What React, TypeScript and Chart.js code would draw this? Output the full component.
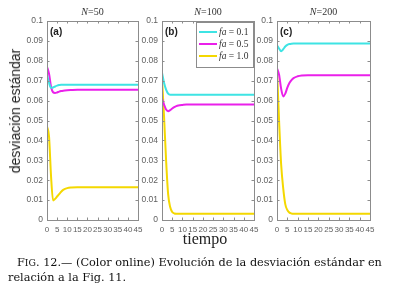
import React, { useEffect, useRef } from 'react';
import { Chart, registerables } from 'chart.js';

Chart.register(...registerables);

// ---- data ----
const time = [0, 1, 2, 3, 4, 5, 6, 7, 8, 10, 12, 15, 20, 30, 45];
const xTicks = [0, 5, 10, 15, 20, 25, 30, 35, 40, 45];
const yTicks = [0, 0.01, 0.02, 0.03, 0.04, 0.05, 0.06, 0.07, 0.08, 0.09, 0.1];
const seriesNames = ['0.1', '0.5', '1.0'];
const seriesColors = ['#3ee4e4', '#ea20ea', '#f4d800'];
const panelTitles = ['50', '100', '200'];
const panelTags = ['(a)', '(b)', '(c)'];

// N = 50
const n50_fa01 = [0.073, 0.069, 0.0664, 0.0666, 0.0671, 0.0675, 0.0678, 0.068, 0.068, 0.068, 0.068, 0.068, 0.068, 0.068, 0.068];
const n50_fa05 = [0.077, 0.0735, 0.067, 0.0642, 0.0638, 0.0641, 0.0645, 0.0648, 0.065, 0.0652, 0.0653, 0.0654, 0.0654, 0.0654, 0.0654];
const n50_fa10 = [0.047, 0.042, 0.022, 0.0098, 0.0106, 0.0118, 0.013, 0.0142, 0.0151, 0.016, 0.0163, 0.0164, 0.0164, 0.0164, 0.0164];
// N = 100
const n100_fa01 = [0.074, 0.069, 0.0655, 0.0635, 0.063, 0.063, 0.063, 0.063, 0.063, 0.063, 0.063, 0.063, 0.063, 0.063, 0.063];
const n100_fa05 = [0.061, 0.058, 0.0555, 0.0547, 0.0552, 0.056, 0.0567, 0.0572, 0.0575, 0.0578, 0.058, 0.058, 0.058, 0.058, 0.058];
const n100_fa10 = [0.071, 0.052, 0.03, 0.013, 0.0065, 0.004, 0.0033, 0.0032, 0.0032, 0.0032, 0.0032, 0.0032, 0.0032, 0.0032, 0.0032];
// N = 200
const n200_fa01 = [0.0878, 0.0862, 0.0848, 0.0858, 0.0872, 0.088, 0.0884, 0.0886, 0.0887, 0.0887, 0.0887, 0.0887, 0.0887, 0.0887, 0.0887];
const n200_fa05 = [0.0762, 0.073, 0.066, 0.0621, 0.0635, 0.0665, 0.0688, 0.0703, 0.0713, 0.0722, 0.0726, 0.0728, 0.0728, 0.0728, 0.0728];
const n200_fa10 = [0.076, 0.05, 0.028, 0.016, 0.008, 0.005, 0.0037, 0.0033, 0.0032, 0.0032, 0.0032, 0.0032, 0.0032, 0.0032, 0.0032];

const panelSeries = [
  [n50_fa01, n50_fa05, n50_fa10],
  [n100_fa01, n100_fa05, n100_fa10],
  [n200_fa01, n200_fa05, n200_fa10],
];

// ---- layout ----
const PLOT_TOP = 21;
const PLOT_BOTTOM = 220;
const LEFT_W = 34;
const RIGHT_W = 8;
const CANVAS_H = 238;
const panelEdges = [
  [47, 138],
  [162, 254],
  [277, 370],
];
const AXIS_COLOR = '#8c8c8c';
const TICK_COLOR = '#606060';

const framePlugin = {
  id: 'frameBox',
  afterDatasetsDraw(chart: any) {
    const { ctx, chartArea: a, scales } = chart;
    ctx.save();
    ctx.strokeStyle = AXIS_COLOR;
    ctx.lineWidth = 1;
    ctx.strokeRect(a.left + 0.5, a.top + 0.5, a.right - a.left, a.bottom - a.top);
    ctx.beginPath();
    for (const v of xTicks) {
      const x = Math.round(scales.x.getPixelForValue(v)) + 0.5;
      ctx.moveTo(x, a.bottom);
      ctx.lineTo(x, a.bottom - 2.5);
      ctx.moveTo(x, a.top);
      ctx.lineTo(x, a.top + 2.5);
    }
    for (const v of yTicks) {
      const y = Math.round(scales.y.getPixelForValue(v)) + 0.5;
      ctx.moveTo(a.left, y);
      ctx.lineTo(a.left + 2.5, y);
      ctx.moveTo(a.right, y);
      ctx.lineTo(a.right - 2.5, y);
    }
    ctx.stroke();
    ctx.restore();
  },
};

function Panel({ idx }: { idx: number }) {
  const ref = useRef<HTMLCanvasElement>(null);
  const [L, R] = panelEdges[idx];
  const width = R - L + LEFT_W + RIGHT_W;
  useEffect(() => {
    if (!ref.current) return;
    const chart = new Chart(ref.current, {
      type: 'line',
      data: {
        datasets: panelSeries[idx].map((vals, i) => ({
          label: 'fa = ' + seriesNames[i],
          data: time.map((t, j) => ({ x: t, y: vals[j] })),
          borderColor: seriesColors[i],
          backgroundColor: seriesColors[i],
          borderWidth: 2,
          pointRadius: 0,
          cubicInterpolationMode: 'monotone' as const,
        })),
      },
      options: {
        animation: false,
        responsive: false,
        events: [],
        layout: { padding: { top: PLOT_TOP, right: RIGHT_W, left: 0, bottom: 0 } },
        plugins: { legend: { display: false }, tooltip: { enabled: false }, title: { display: false } },
        scales: {
          x: {
            type: 'linear',
            min: 0,
            max: 45,
            grid: { display: false, drawTicks: false, tickLength: 0 },
            border: { display: false },
            afterBuildTicks: (s: any) => {
              s.ticks = xTicks.map((v) => ({ value: v }));
            },
            afterFit: (s: any) => {
              s.height = CANVAS_H - PLOT_BOTTOM;
              s.paddingLeft = 0;
              s.paddingRight = 0;
            },
            ticks: {
              autoSkip: false,
              maxRotation: 0,
              minRotation: 0,
              padding: 5,
              color: TICK_COLOR,
              font: { family: 'Liberation Sans, Arial, sans-serif', size: 8 },
            },
          },
          y: {
            type: 'linear',
            min: 0,
            max: 0.1,
            grid: { display: false, drawTicks: false, tickLength: 0 },
            border: { display: false },
            afterBuildTicks: (s: any) => {
              s.ticks = yTicks.map((v) => ({ value: v }));
            },
            afterFit: (s: any) => {
              s.width = LEFT_W;
              s.paddingTop = 0;
              s.paddingBottom = 0;
            },
            ticks: {
              padding: 4,
              color: TICK_COLOR,
              font: { family: 'Liberation Sans, Arial, sans-serif', size: 8.5 },
              callback: (v: any) => String(+Number(v).toFixed(2)),
            },
          },
        },
      },
      plugins: [framePlugin],
    });
    return () => chart.destroy();
  }, [idx]);

  const cx = (L + R) / 2;
  return (
    <>
      <canvas
        ref={ref}
        width={width}
        height={CANVAS_H}
        style={{ position: 'absolute', left: L - LEFT_W, top: 0, width, height: CANVAS_H }}
      />
      <div
        style={{
          position: 'absolute',
          left: cx,
          top: 11.5,
          transform: 'translate(-50%, -50%)',
          fontFamily: 'Liberation Serif, serif',
          fontSize: 10,
          lineHeight: '10px',
          color: '#333',
          whiteSpace: 'nowrap',
        }}
      >
        <i>N</i>=<span>{panelTitles[idx]}</span>
      </div>
      <div
        style={{
          position: 'absolute',
          left: L + 3,
          top: 31.5,
          transform: 'translateY(-50%)',
          fontFamily: 'Liberation Sans, Arial, sans-serif',
          fontWeight: 'bold',
          fontSize: 10,
          lineHeight: '10px',
          color: '#222',
        }}
      >
        {panelTags[idx]}
      </div>
    </>
  );
}

function Legend() {
  const rows = [31.5, 43.5, 55.5];
  return (
    <div
      style={{
        position: 'absolute',
        left: 196,
        top: 22,
        width: 56,
        height: 44,
        border: '1px solid ' + AXIS_COLOR,
        background: '#fff',
      }}
    >
      {seriesNames.map((n, i) => (
        <React.Fragment key={n}>
          <div
            style={{
              position: 'absolute',
              left: 2,
              top: rows[i] - 22 - 1 - 1,
              width: 18,
              height: 2,
              background: seriesColors[i],
            }}
          />
          <div
            style={{
              position: 'absolute',
              left: 22,
              top: rows[i] - 22 - 1,
              transform: 'translateY(-50%)',
              fontFamily: 'Liberation Serif, serif',
              fontSize: 9.5,
              lineHeight: '10px',
              color: '#333',
              whiteSpace: 'nowrap',
            }}
          >
            <i>fa</i> = {n}
          </div>
        </React.Fragment>
      ))}
    </div>
  );
}

export default function App() {
  return (
    <div
      style={{
        position: 'fixed',
        left: 0,
        top: 0,
        width: 407,
        height: 285,
        background: '#fff',
        overflow: 'hidden',
      }}
    >
      <Panel idx={0} />
      <Panel idx={1} />
      <Panel idx={2} />
      <Legend />
      <div
        style={{
          position: 'absolute',
          left: 15,
          top: 111,
          transform: 'translate(-50%, -50%) rotate(-90deg)',
          fontFamily: 'Liberation Sans, Arial, sans-serif',
          fontSize: 14,
          lineHeight: '14px',
          color: '#222',
          whiteSpace: 'nowrap',
        }}
      >
        desviación estándar
      </div>
      <div
        style={{
          position: 'absolute',
          left: 205,
          top: 239,
          transform: 'translate(-50%, -50%)',
          fontFamily: 'Liberation Serif, serif',
          fontSize: 16,
          lineHeight: '16px',
          color: '#222',
          whiteSpace: 'nowrap',
        }}
      >
        tiempo
      </div>
      <div
        style={{
          position: 'absolute',
          left: 8,
          top: 256,
          fontFamily: 'DejaVu Serif, serif',
          fontSize: 11.3,
          lineHeight: '14.5px',
          color: '#111',
          whiteSpace: 'nowrap',
        }}
      >
        <div style={{ paddingLeft: 9 }}>
          F<span style={{ fontSize: 9.3 }}>IG</span>. 12.— (Color online) Evolución de la desviación estándar en
        </div>
        <div>relación a la Fig. 11.</div>
      </div>
    </div>
  );
}
